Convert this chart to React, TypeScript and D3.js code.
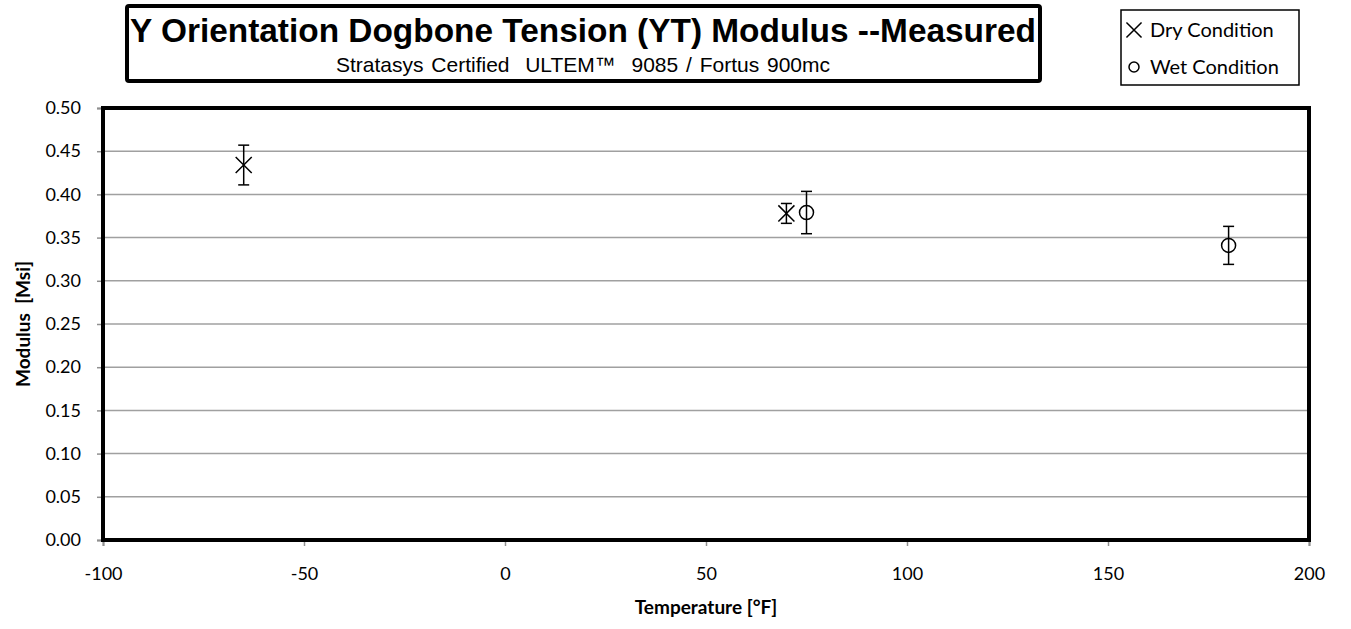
import React, { useEffect, useRef } from "react";
import * as d3 from "d3";

// measured modulus values (Msi) with +/- spread
const dryTemps = [-65, 70];
const dryValues = [0.434, 0.378];
const dryErr = [0.023, 0.0115];

const wetTemps = [75, 180];
const wetValues = [0.379, 0.341];
const wetErr = [0.0245, 0.022];

const xTicks = [-100, -50, 0, 50, 100, 150, 200];
const yTicks = [0, 0.05, 0.1, 0.15, 0.2, 0.25, 0.3, 0.35, 0.4, 0.45, 0.5];

const FONT = "Lato, 'Open Sans', sans-serif";
const ARIAL = "'Liberation Sans', Arial, sans-serif";

export default function App() {
  const ref = useRef<SVGSVGElement>(null);

  useEffect(() => {
    const svg = d3.select(ref.current);
    svg.selectAll("*").remove();

    const left = 103, right = 1309, top = 108, bottom = 540;
    const x = d3.scaleLinear().domain([-100, 200]).range([left, right]);
    const y = d3.scaleLinear().domain([0, 0.5]).range([bottom, top]);

    // gridlines
    svg.append("g")
      .selectAll("line")
      .data(yTicks.slice(1))
      .join("line")
      .attr("x1", left).attr("x2", right)
      .attr("y1", d => y(d)).attr("y2", d => y(d))
      .attr("stroke", "#a0a0a0").attr("stroke-width", 1.5);

    // axes (gray) with outside ticks
    const yAxis = svg.append("g")
      .attr("transform", `translate(${left},0)`)
      .call(d3.axisLeft(y).tickValues(yTicks).tickSize(6).tickFormat(d3.format(".2f")));
    yAxis.select(".domain").attr("stroke", "#909090").attr("stroke-width", 2);
    yAxis.selectAll(".tick line").attr("stroke", "#909090").attr("stroke-width", 1.5);
    yAxis.selectAll("text")
      .attr("font-family", FONT).attr("font-size", 18).attr("fill", "#000").attr("x", -22);

    const xAxis = svg.append("g")
      .attr("transform", `translate(0,${bottom})`)
      .call(d3.axisBottom(x).tickValues(xTicks).tickSize(6).tickFormat(d => String(d)));
    xAxis.select(".domain").attr("stroke", "#909090").attr("stroke-width", 2);
    xAxis.selectAll(".tick line").attr("stroke", "#909090").attr("stroke-width", 1.5);
    xAxis.selectAll("text")
      .attr("font-family", FONT).attr("font-size", 18).attr("fill", "#000").attr("dy", "1.7em");

    // thick plot frame
    svg.append("rect")
      .attr("x", left).attr("y", top)
      .attr("width", right - left).attr("height", bottom - top)
      .attr("fill", "none").attr("stroke", "#000").attr("stroke-width", 4);

    const errBars = (temps: number[], vals: number[], errs: number[]) => {
      const g = svg.append("g").attr("stroke", "#000").attr("stroke-width", 1.5);
      temps.forEach((t, i) => {
        const cx = x(t);
        const y1 = y(vals[i] + errs[i]);
        const y2 = y(vals[i] - errs[i]);
        g.append("line").attr("x1", cx).attr("x2", cx).attr("y1", y1).attr("y2", y2);
        g.append("line").attr("x1", cx - 5.5).attr("x2", cx + 5.5).attr("y1", y1).attr("y2", y1);
        g.append("line").attr("x1", cx - 5.5).attr("x2", cx + 5.5).attr("y1", y2).attr("y2", y2);
      });
    };
    errBars(dryTemps, dryValues, dryErr);
    errBars(wetTemps, wetValues, wetErr);

    const cross = d3.symbol().type(d3.symbolTimes).size(170);
    svg.append("g")
      .selectAll("path")
      .data(dryTemps)
      .join("path")
      .attr("transform", (d, i) => `translate(${x(d)},${y(dryValues[i])})`)
      .attr("d", cross)
      .attr("fill", "none").attr("stroke", "#000").attr("stroke-width", 1.5);

    svg.append("g")
      .selectAll("circle")
      .data(wetTemps)
      .join("circle")
      .attr("cx", d => x(d))
      .attr("cy", (d, i) => y(wetValues[i]))
      .attr("r", 7)
      .attr("fill", "none").attr("stroke", "#000").attr("stroke-width", 1.5);

    // axis titles
    svg.append("text")
      .attr("x", (left + right) / 2).attr("y", 614)
      .attr("text-anchor", "middle")
      .attr("font-family", FONT).attr("font-size", 19).attr("font-weight", "bold")
      .text("Temperature [°F]");
    svg.append("text")
      .attr("transform", `translate(30,${(top + bottom) / 2}) rotate(-90)`)
      .attr("text-anchor", "middle")
      .attr("font-family", FONT).attr("font-size", 19).attr("font-weight", "bold")
      .attr("xml:space", "preserve")
      .text("Modulus  [Msi]");

    // title box
    svg.append("rect")
      .attr("x", 127).attr("y", 6).attr("width", 913).attr("height", 75).attr("rx", 2)
      .attr("fill", "#fff").attr("stroke", "#000").attr("stroke-width", 4);
    svg.append("text")
      .attr("x", 583).attr("y", 42)
      .attr("text-anchor", "middle")
      .attr("font-family", ARIAL)
      .attr("font-size", 33).attr("font-weight", "bold")
      .attr("textLength", 906).attr("lengthAdjust", "spacingAndGlyphs")
      .text("Y Orientation Dogbone Tension (YT) Modulus --Measured");
    svg.append("text")
      .attr("x", 583).attr("y", 72)
      .attr("text-anchor", "middle")
      .attr("font-family", ARIAL)
      .attr("font-size", 21)
      .attr("word-spacing", 2)
      .attr("xml:space", "preserve")
      .text("Stratasys Certified  ULTEM™  9085 / Fortus 900mc");

    // legend
    svg.append("rect")
      .attr("x", 1121).attr("y", 10).attr("width", 178).attr("height", 75)
      .attr("fill", "#fff").attr("stroke", "#000").attr("stroke-width", 1.5);
    svg.append("path")
      .attr("transform", "translate(1134,30)")
      .attr("d", d3.symbol().type(d3.symbolTimes).size(150)())
      .attr("fill", "none").attr("stroke", "#000").attr("stroke-width", 1.5);
    svg.append("circle")
      .attr("cx", 1134).attr("cy", 67).attr("r", 5)
      .attr("fill", "none").attr("stroke", "#000").attr("stroke-width", 1.5);
    const leg = [["Dry Condition", 37], ["Wet Condition", 74]] as const;
    leg.forEach(([t, yy]) => {
      svg.append("text")
        .attr("x", 1150).attr("y", yy)
        .attr("font-family", FONT).attr("font-size", 20)
        .text(t);
    });
  }, []);

  return (
    <svg ref={ref} width={1351} height={629} style={{ position: "absolute", left: 0, top: 0, background: "#fff" }} />
  );
}
